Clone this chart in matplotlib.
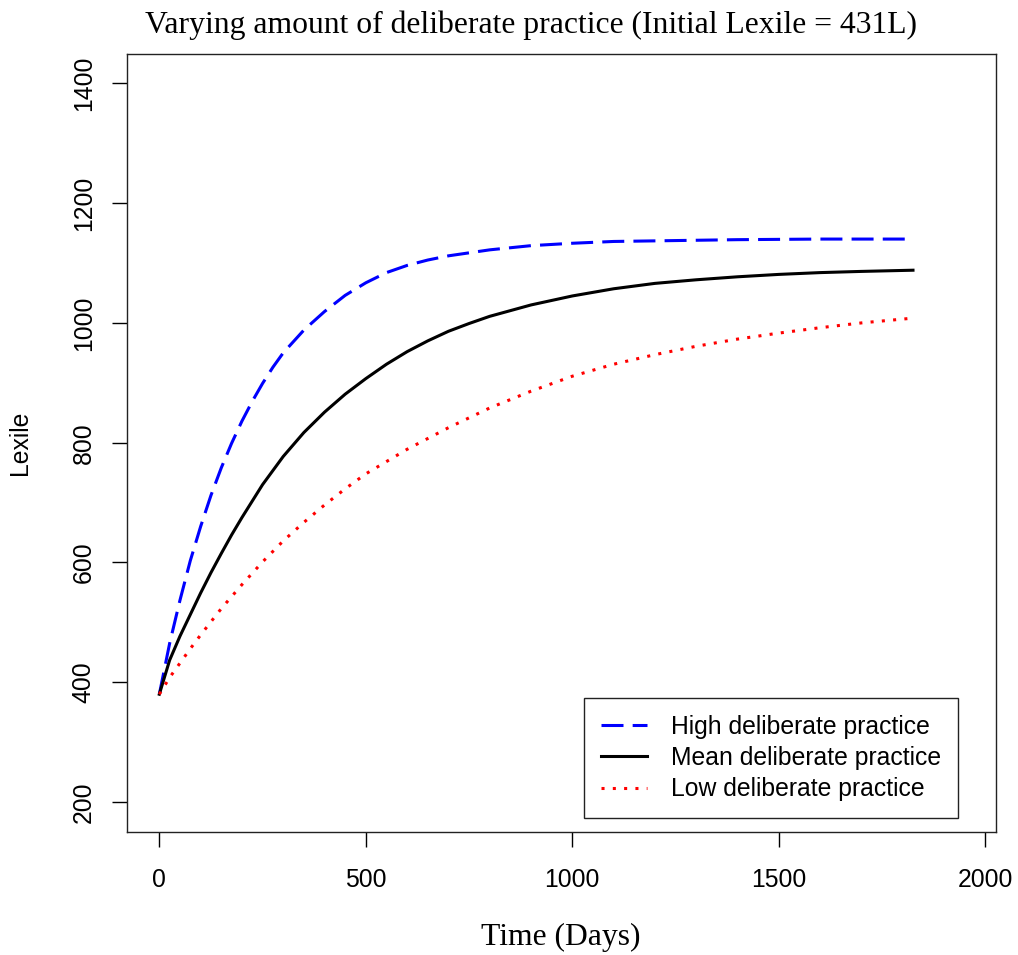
import matplotlib
matplotlib.use("Agg")
import matplotlib.pyplot as plt

# ---- data ----
days_high = [0, 25, 50, 75, 100, 125, 150, 175, 200, 225, 250, 275, 300, 350, 400, 450, 500,
             550, 600, 650, 700, 800, 900, 1000, 1100, 1200, 1400, 1600, 1825]
lexile_high = [380, 465, 537, 603, 660, 712, 758, 799, 836, 869, 899, 926, 950, 988, 1019, 1046, 1067,
               1084, 1096, 1105, 1112, 1122, 1129, 1133, 1136, 1137, 1139, 1140, 1140]

days_mean = [0, 25, 50, 75, 100, 125, 150, 175, 200, 250, 300, 350, 400, 450, 500, 550, 600,
             650, 700, 750, 800, 900, 1000, 1100, 1200, 1300, 1400, 1500, 1600, 1700, 1825]
lexile_mean = [380, 437, 477, 513, 549, 583, 615, 646, 675, 730, 777, 817, 851, 881, 907, 931, 952,
               970, 986, 999, 1011, 1030, 1045, 1057, 1066, 1072, 1077, 1081, 1084, 1086, 1088]

days_low = [0, 25, 50, 75, 100, 150, 200, 250, 300, 350, 400, 450, 500, 600, 700,
            800, 900, 1000, 1100, 1200, 1300, 1400, 1500, 1600, 1700, 1825]
lexile_low = [380, 408, 432, 456, 479, 523, 563, 601, 636, 667, 696, 723, 748, 789, 825,
              858, 886, 911, 931, 947, 961, 973, 983, 992, 1000, 1008]

x_ticks = [0, 500, 1000, 1500, 2000]
y_ticks = [200, 400, 600, 800, 1000, 1200, 1400]

title_text = "Varying amount of deliberate practice (Initial Lexile = 431L)"
x_label = "Time (Days)"
y_label = "Lexile"
legend_labels = ["High deliberate practice", "Mean deliberate practice", "Low deliberate practice"]

# ---- figure ----
W, H = 1018, 955
fig = plt.figure(figsize=(W / 100, H / 100), dpi=100)
ax = fig.add_axes([126.7 / W, 1 - 832 / H, (996 - 126.7) / W, (832 - 54) / H])

lw = 2.2
ax.plot(days_high, lexile_high, color="#0000FF", lw=lw, linestyle=(0, (7.2, 3.0)),
        dash_capstyle="butt", label=legend_labels[0])
ax.plot(days_mean, lexile_mean, color="black", lw=lw, label=legend_labels[1])
ax.plot(days_low, lexile_low, color="#FF0000", lw=lw, linestyle=(0, (1.0, 2.7)),
        dash_capstyle="butt", label=legend_labels[2])

ax.set_xlim(-79, 2026)
ax.set_ylim(150, 1449)
ax.set_xticks(x_ticks)
ax.set_yticks(y_ticks)

sans = ["Liberation Sans", "DejaVu Sans"]
serif = ["Liberation Serif", "DejaVu Serif"]
tick_fs = 17.8

ax.tick_params(axis="both", length=10.8, width=1.0, direction="out", color="black",
               labelsize=tick_fs, labelcolor="black")
ax.tick_params(axis="x", pad=15)
ax.tick_params(axis="y", pad=11.5)
for lab in ax.get_xticklabels():
    lab.set_fontfamily(sans)
for lab in ax.get_yticklabels():
    lab.set_fontfamily(sans)
    lab.set_rotation(90)
    lab.set_va("center")

for sp in ax.spines.values():
    sp.set_linewidth(1.0)
    sp.set_color("#222222")

# axis labels and title
fig.text(531 / W, 1 - 33 / H, title_text, ha="center", va="baseline",
         fontsize=22.8, family=serif)
fig.text(561 / W, 1 - 945 / H, x_label, ha="center", va="baseline",
         fontsize=22.8, family=serif)
fig.text(20 / W, 1 - 443 / H, y_label, ha="center", va="center", rotation=90,
         fontsize=tick_fs, family=sans)

leg = ax.legend(loc="lower right",
                bbox_to_anchor=((958.3 - 126.7) / (996 - 126.7), (832 - 818.3) / (832 - 54)),
                borderaxespad=0, fancybox=False, frameon=True, edgecolor="#222222",
                prop={"family": sans, "size": tick_fs}, handlelength=1.85, handletextpad=1.0,
                borderpad=0.68, labelspacing=0.3)
leg.get_frame().set_linewidth(1.0)
leg.get_frame().set_facecolor("white")
leg.get_frame().set_alpha(1)

fig.savefig("out.png", dpi=100)
